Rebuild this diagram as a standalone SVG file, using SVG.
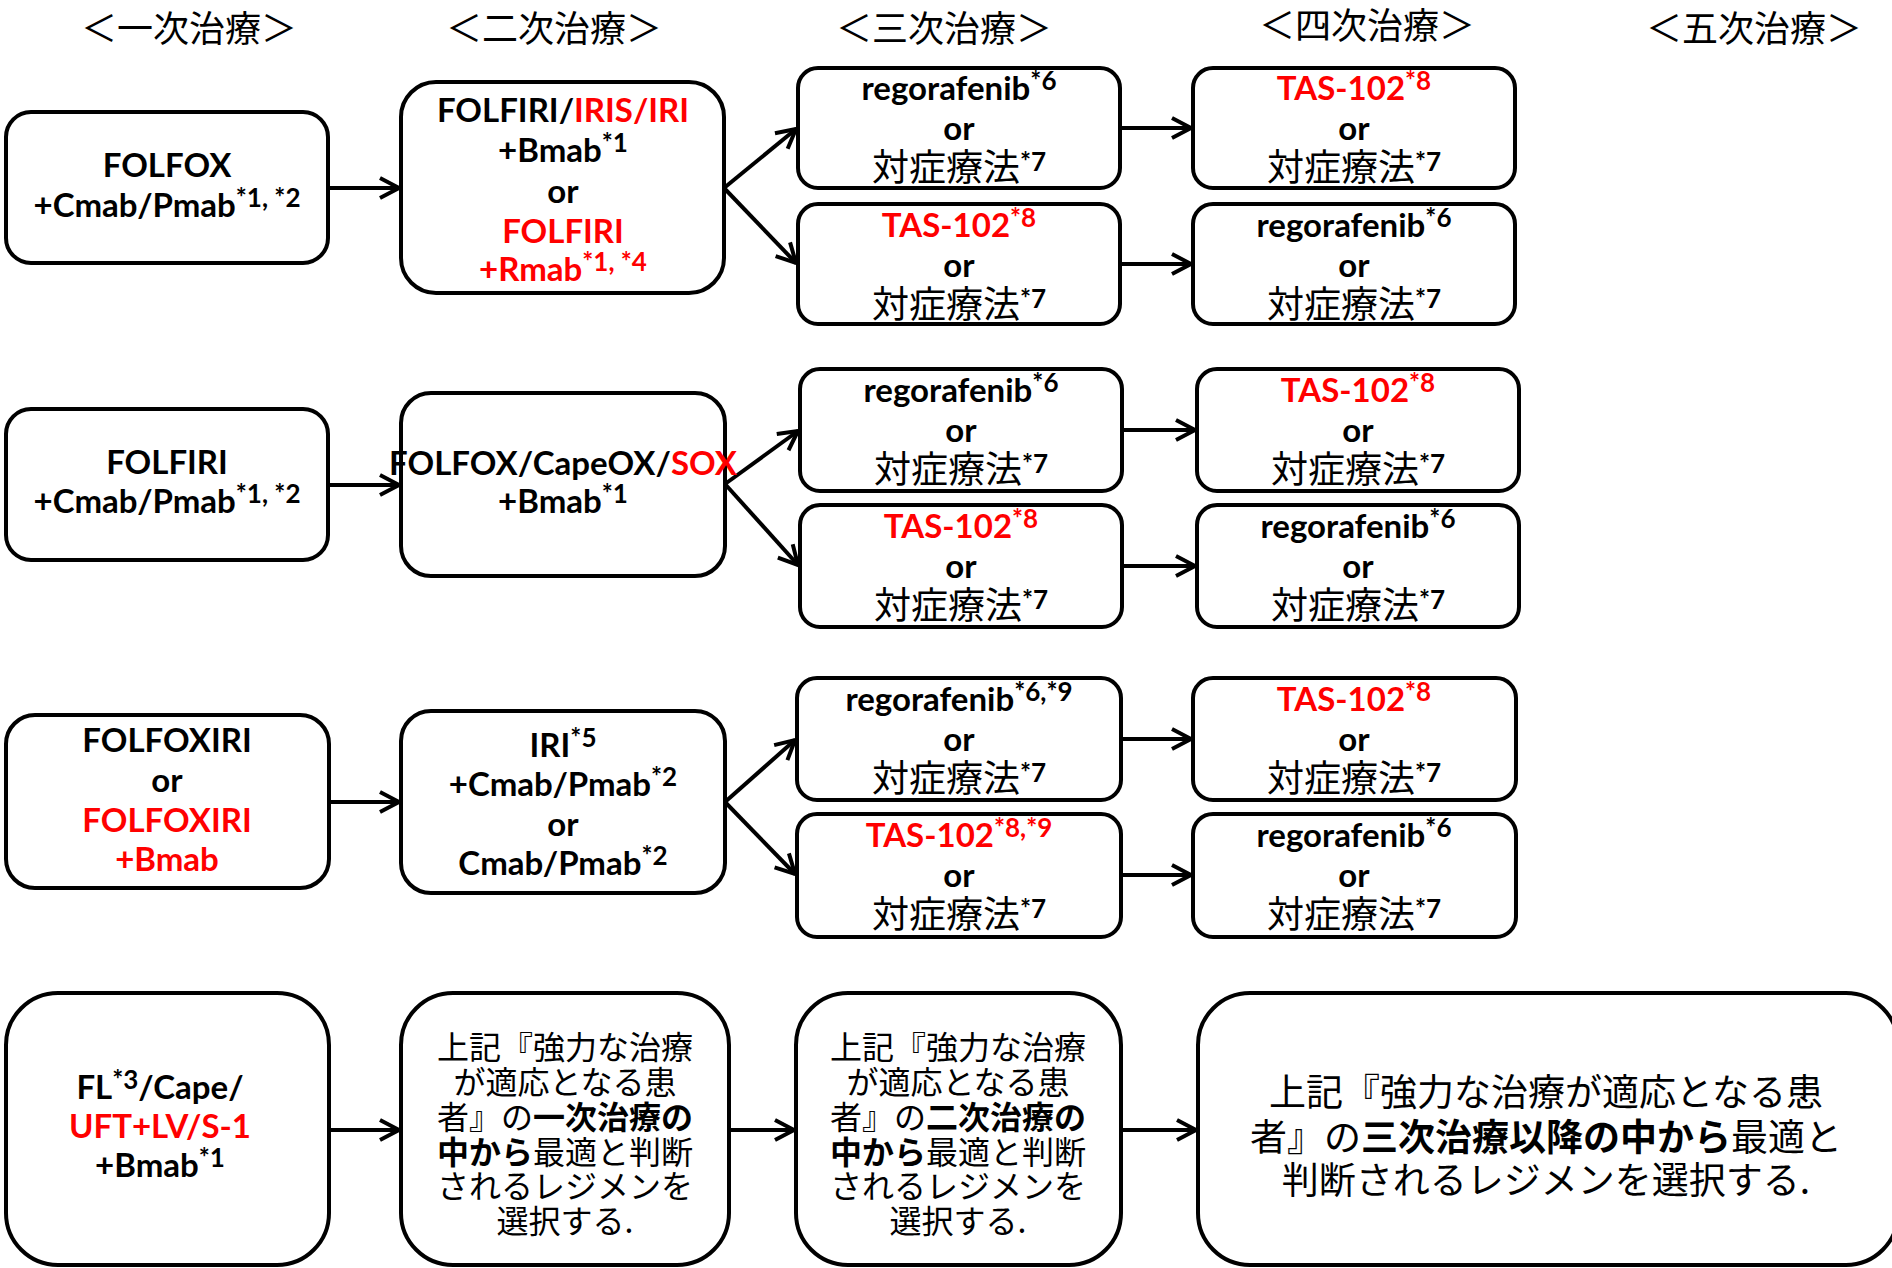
<svg xmlns="http://www.w3.org/2000/svg" width="1892" height="1268" viewBox="0 0 1892 1268">
<defs>
<style>
.box{fill:#fff;stroke:#000;stroke-width:4}
.lat{font-family:Lato,"Liberation Sans",sans-serif;font-weight:700;font-size:33px;text-anchor:middle;fill:#000}
.sup{font-size:26px}
.r{fill:#f00}
.jpm{font-family:"Noto Sans CJK JP",sans-serif;font-weight:400;font-size:37px}
.hd{font-family:"Noto Sans CJK JP",sans-serif;font-weight:400;font-size:36px;text-anchor:middle;fill:#000}
.jp{font-family:"Noto Sans CJK JP",sans-serif;font-weight:400;font-size:32px;text-anchor:middle;fill:#000}
.jpl{font-family:"Noto Sans CJK JP",sans-serif;font-weight:400;font-size:37px;text-anchor:middle;fill:#000}
.b{font-weight:700}
.conn{stroke:#000;stroke-width:4;fill:none;marker-end:url(#ah)}
</style>
<marker id="ah" markerUnits="userSpaceOnUse" markerWidth="30" markerHeight="26" viewBox="0 0 30 26" refX="21" refY="13" orient="auto" overflow="visible">
<path d="M2,3 L21,13 L2,23" fill="none" stroke="#000" stroke-width="4"/>
</marker>
</defs>
<rect x="0" y="0" width="1892" height="1268" fill="#fff"/>

<g id="headers">
<text class="hd" x="189" y="42">＜一次治療＞</text>
<text class="hd" x="554" y="42">＜二次治療＞</text>
<text class="hd" x="944" y="42">＜三次治療＞</text>
<text class="hd" x="1367" y="39">＜四次治療＞</text>
<text class="hd" x="1754" y="42">＜五次治療＞</text>
</g>

<g id="connectors">
<line class="conn" x1="328" y1="188" x2="399" y2="188"/>
<line class="conn" x1="724" y1="188" x2="796" y2="129"/>
<line class="conn" x1="724" y1="188" x2="796" y2="263"/>
<line class="conn" x1="1120" y1="128" x2="1191" y2="128"/>
<line class="conn" x1="1120" y1="264" x2="1191" y2="264"/>

<line class="conn" x1="328" y1="485" x2="399" y2="485"/>
<line class="conn" x1="725" y1="484" x2="798" y2="431"/>
<line class="conn" x1="725" y1="484" x2="798" y2="565"/>
<line class="conn" x1="1122" y1="430" x2="1195" y2="430"/>
<line class="conn" x1="1122" y1="566" x2="1195" y2="566"/>

<line class="conn" x1="329" y1="802" x2="399" y2="802"/>
<line class="conn" x1="725" y1="802" x2="795" y2="740"/>
<line class="conn" x1="725" y1="802" x2="795" y2="874"/>
<line class="conn" x1="1121" y1="739" x2="1191" y2="739"/>
<line class="conn" x1="1121" y1="875" x2="1191" y2="875"/>

<line class="conn" x1="329" y1="1130" x2="399" y2="1130"/>
<line class="conn" x1="729" y1="1130" x2="794" y2="1130"/>
<line class="conn" x1="1121" y1="1130" x2="1196" y2="1130"/>
</g>

<g id="a1"><rect class="box" x="6" y="112" width="322" height="151" rx="25"/>
<text class="lat" x="167" y="177">FOLFOX</text>
<text class="lat" x="167" y="217">+Cmab/Pmab<tspan class="sup" baseline-shift="10">*1, *2</tspan></text></g>

<g id="a2"><rect class="box" x="401" y="82" width="323" height="211" rx="35"/>
<text class="lat" x="563" y="122">FOLFIRI/<tspan class="r">IRIS/IRI</tspan></text>
<text class="lat" x="563" y="162">+Bmab<tspan class="sup" baseline-shift="10">*1</tspan></text>
<text class="lat" x="563" y="203">or</text>
<text class="lat r" x="563" y="243">FOLFIRI</text>
<text class="lat r" x="563" y="281">+Rmab<tspan class="sup" baseline-shift="10">*1, *4</tspan></text></g>

<g id="a3t"><rect class="box" x="798" y="68" width="322" height="120" rx="20"/>
<text class="lat" x="959" y="100">regorafenib<tspan class="sup" baseline-shift="10">*6</tspan></text>
<text class="lat" x="959" y="140">or</text>
<text class="lat" x="959" y="181"><tspan class="jpm">対症療法</tspan><tspan class="sup" baseline-shift="10">*7</tspan></text></g>

<g id="a3b"><rect class="box" x="798" y="204" width="322" height="120" rx="20"/>
<text class="lat r" x="959" y="237">TAS-102<tspan class="sup" baseline-shift="10">*8</tspan></text>
<text class="lat" x="959" y="277">or</text>
<text class="lat" x="959" y="318"><tspan class="jpm">対症療法</tspan><tspan class="sup" baseline-shift="10">*7</tspan></text></g>

<g id="a4t"><rect class="box" x="1193" y="68" width="322" height="120" rx="20"/>
<text class="lat r" x="1354" y="100">TAS-102<tspan class="sup" baseline-shift="10">*8</tspan></text>
<text class="lat" x="1354" y="140">or</text>
<text class="lat" x="1354" y="181"><tspan class="jpm">対症療法</tspan><tspan class="sup" baseline-shift="10">*7</tspan></text></g>

<g id="a4b"><rect class="box" x="1193" y="204" width="322" height="120" rx="20"/>
<text class="lat" x="1354" y="237">regorafenib<tspan class="sup" baseline-shift="10">*6</tspan></text>
<text class="lat" x="1354" y="277">or</text>
<text class="lat" x="1354" y="318"><tspan class="jpm">対症療法</tspan><tspan class="sup" baseline-shift="10">*7</tspan></text></g>

<g id="b1"><rect class="box" x="6" y="409" width="322" height="151" rx="25"/>
<text class="lat" x="167" y="474">FOLFIRI</text>
<text class="lat" x="167" y="513">+Cmab/Pmab<tspan class="sup" baseline-shift="10">*1, *2</tspan></text></g>

<g id="b2"><rect class="box" x="401" y="393" width="324" height="183" rx="30"/>
<text class="lat" x="563" y="475">FOLFOX/CapeOX/<tspan class="r">SOX</tspan></text>
<text class="lat" x="563" y="513">+Bmab<tspan class="sup" baseline-shift="10">*1</tspan></text></g>

<g id="b3t"><rect class="box" x="800" y="369" width="322" height="122" rx="20"/>
<text class="lat" x="961" y="402">regorafenib<tspan class="sup" baseline-shift="10">*6</tspan></text>
<text class="lat" x="961" y="442">or</text>
<text class="lat" x="961" y="483"><tspan class="jpm">対症療法</tspan><tspan class="sup" baseline-shift="10">*7</tspan></text></g>

<g id="b3b"><rect class="box" x="800" y="505" width="322" height="122" rx="20"/>
<text class="lat r" x="961" y="538">TAS-102<tspan class="sup" baseline-shift="10">*8</tspan></text>
<text class="lat" x="961" y="578">or</text>
<text class="lat" x="961" y="619"><tspan class="jpm">対症療法</tspan><tspan class="sup" baseline-shift="10">*7</tspan></text></g>

<g id="b4t"><rect class="box" x="1197" y="369" width="322" height="122" rx="20"/>
<text class="lat r" x="1358" y="402">TAS-102<tspan class="sup" baseline-shift="10">*8</tspan></text>
<text class="lat" x="1358" y="442">or</text>
<text class="lat" x="1358" y="483"><tspan class="jpm">対症療法</tspan><tspan class="sup" baseline-shift="10">*7</tspan></text></g>

<g id="b4b"><rect class="box" x="1197" y="505" width="322" height="122" rx="20"/>
<text class="lat" x="1358" y="538">regorafenib<tspan class="sup" baseline-shift="10">*6</tspan></text>
<text class="lat" x="1358" y="578">or</text>
<text class="lat" x="1358" y="619"><tspan class="jpm">対症療法</tspan><tspan class="sup" baseline-shift="10">*7</tspan></text></g>

<g id="c1"><rect class="box" x="6" y="715" width="323" height="173" rx="29"/>
<text class="lat" x="167" y="752">FOLFOXIRI</text>
<text class="lat" x="167" y="792">or</text>
<text class="lat r" x="167" y="832">FOLFOXIRI</text>
<text class="lat r" x="167" y="871">+Bmab</text></g>

<g id="c2"><rect class="box" x="401" y="711" width="324" height="182" rx="30"/>
<text class="lat" x="563" y="757">IRI<tspan class="sup" baseline-shift="10">*5</tspan></text>
<text class="lat" x="563" y="796">+Cmab/Pmab<tspan class="sup" baseline-shift="10">*2</tspan></text>
<text class="lat" x="563" y="836">or</text>
<text class="lat" x="563" y="875">Cmab/Pmab<tspan class="sup" baseline-shift="10">*2</tspan></text></g>

<g id="c3t"><rect class="box" x="797" y="678" width="324" height="122" rx="20"/>
<text class="lat" x="959" y="711">regorafenib<tspan class="sup" baseline-shift="10">*6,*9</tspan></text>
<text class="lat" x="959" y="751">or</text>
<text class="lat" x="959" y="792"><tspan class="jpm">対症療法</tspan><tspan class="sup" baseline-shift="10">*7</tspan></text></g>

<g id="c3b"><rect class="box" x="797" y="814" width="324" height="123" rx="20"/>
<text class="lat r" x="959" y="847">TAS-102<tspan class="sup" baseline-shift="10">*8,*9</tspan></text>
<text class="lat" x="959" y="887">or</text>
<text class="lat" x="959" y="928"><tspan class="jpm">対症療法</tspan><tspan class="sup" baseline-shift="10">*7</tspan></text></g>

<g id="c4t"><rect class="box" x="1193" y="678" width="323" height="122" rx="20"/>
<text class="lat r" x="1354" y="711">TAS-102<tspan class="sup" baseline-shift="10">*8</tspan></text>
<text class="lat" x="1354" y="751">or</text>
<text class="lat" x="1354" y="792"><tspan class="jpm">対症療法</tspan><tspan class="sup" baseline-shift="10">*7</tspan></text></g>

<g id="c4b"><rect class="box" x="1193" y="814" width="323" height="123" rx="20"/>
<text class="lat" x="1354" y="847">regorafenib<tspan class="sup" baseline-shift="10">*6</tspan></text>
<text class="lat" x="1354" y="887">or</text>
<text class="lat" x="1354" y="928"><tspan class="jpm">対症療法</tspan><tspan class="sup" baseline-shift="10">*7</tspan></text></g>

<g id="d1"><rect class="box" x="6" y="993" width="323" height="272" rx="52"/>
<text class="lat" x="160" y="1099">FL<tspan class="sup" baseline-shift="10">*3</tspan>/Cape/</text>
<text class="lat r" x="160" y="1138">UFT+LV/S-1</text>
<text class="lat" x="160" y="1177">+Bmab<tspan class="sup" baseline-shift="10">*1</tspan></text></g>

<g id="d2"><rect class="box" x="401" y="993" width="328" height="272" rx="52"/>
<text class="jp" x="565" y="1059">上記『強力な治療</text>
<text class="jp" x="565" y="1094">が適応となる患</text>
<text class="jp" x="565" y="1129">者』の<tspan class="b">一次治療の</tspan></text>
<text class="jp" x="565" y="1164"><tspan class="b">中から</tspan>最適と判断</text>
<text class="jp" x="565" y="1198">されるレジメンを</text>
<text class="jp" x="565" y="1233">選択する.</text></g>

<g id="d3"><rect class="box" x="796" y="993" width="325" height="272" rx="52"/>
<text class="jp" x="958" y="1059">上記『強力な治療</text>
<text class="jp" x="958" y="1094">が適応となる患</text>
<text class="jp" x="958" y="1129">者』の<tspan class="b">二次治療の</tspan></text>
<text class="jp" x="958" y="1164"><tspan class="b">中から</tspan>最適と判断</text>
<text class="jp" x="958" y="1198">されるレジメンを</text>
<text class="jp" x="958" y="1233">選択する.</text></g>

<g id="d4"><rect class="box" x="1198" y="993" width="700" height="272" rx="52"/>
<text class="jpl" x="1546" y="1106">上記『強力な治療が適応となる患</text>
<text class="jpl" x="1546" y="1151">者』の<tspan class="b">三次治療以降の中から</tspan>最適と</text>
<text class="jpl" x="1546" y="1194">判断されるレジメンを選択する.</text></g>
</svg>
